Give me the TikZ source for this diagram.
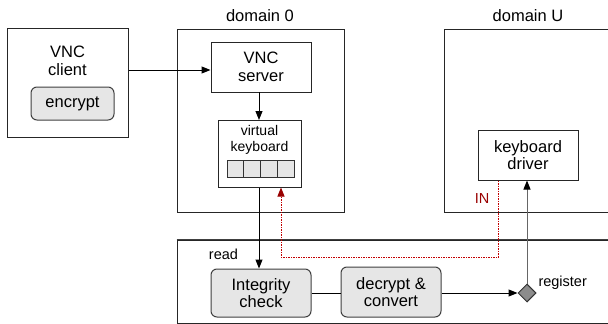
\documentclass[tikz,border=0pt]{standalone}
\usepackage{fontspec}
\setmainfont{Liberation Sans}
\usetikzlibrary{arrows.meta,shapes.geometric}
\definecolor{boxfill}{HTML}{E6E6E6}
\definecolor{darkred}{HTML}{990000}
\definecolor{dotred}{HTML}{C00000}
\definecolor{greyline}{HTML}{666666}
\begin{document}
\begin{tikzpicture}[x=1pt,y=-1pt,
  big/.style={font=\fontsize{16.5}{17.5}\selectfont},
  small/.style={font=\fontsize{14.5}{15.5}\selectfont},
  plainbox/.style={draw=black!85,line width=1pt,fill=white,inner sep=0pt,align=center,big},
  greybox/.style={draw=black!75,line width=1pt,fill=boxfill,rounded corners=6pt,inner sep=0pt,align=center,big},
  cell/.style={draw=black!80,line width=0.8pt,fill=boxfill,inner sep=0pt,minimum width=16.75pt,minimum height=17pt},
  arr/.style={line width=1pt,-{Triangle[length=9pt,width=7pt]}},
  conn/.style={line width=1pt}
]
\useasboundingbox (0,0) rectangle (608,324);
\clip (0,0) rectangle (608,324);
\fill[white] (0,0) rectangle (608,324);
% big containers
\node[plainbox,minimum width=121pt,minimum height=109pt] (client) at (67.5,82.5) {};
\node[plainbox,minimum width=167pt,minimum height=183pt] (dom0) at (260.5,120.5) {};
\node[plainbox,minimum width=176pt,minimum height=183pt] (domU) at (532,120.5) {};
\node[draw=black!85,line width=1pt,fill=white,inner sep=0pt,minimum width=443pt,minimum height=83pt] (bottom) at (398.5,281.5) {};
\draw[black!75,line width=1.8pt] (bottom.north west) -- (bottom.north east);
% labels
\node[big] (l0) at (260,16) {domain 0};
\node[big] (lU) at (528,16) {domain U};
\node[big,align=center] (clienttxt) at (67.5,61) {VNC\\client};
\node[small] (read) at (223.5,254) {read};
\node[small,anchor=west] (reg) at (535,283) {register};
\node[small,text=darkred] (in) at (482,199) {IN};
% inner boxes
\node[greybox,minimum width=83pt,minimum height=33pt] (enc) at (72.5,103.5) {encrypt};
\node[plainbox,minimum width=100pt,minimum height=50pt] (server) at (261,67) {VNC\\server};
\node[plainbox,minimum width=83pt,minimum height=67pt] (vkb) at (259.5,153.5) {};
\node[align=center,font=\fontsize{14}{16}\selectfont] (vkbtxt) at (259.5,139.5) {virtual\\keyboard};
\node[cell] (c1) at (235.4,168.5) {};
\node[cell] (c2) at (252.1,168.5) {};
\node[cell] (c3) at (268.9,168.5) {};
\node[cell] (c4) at (285.6,168.5) {};
\node[plainbox,minimum width=100pt,minimum height=50pt] (driver) at (528,155) {keyboard\\driver};
\node[greybox,minimum width=100pt,minimum height=48pt] (integ) at (261,293) {Integrity\\check};
\node[greybox,minimum width=100pt,minimum height=50pt] (decr) at (391,292) {decrypt \&\\convert};
\node[diamond,draw=black!80,fill=black!45,line width=1pt,inner sep=0pt,minimum width=18pt,minimum height=18pt] (dia) at (527,293) {};
% connectors
\draw[arr] (client.east |- 0,70) -- (server.west |- 0,70);
\draw[arr] (259,92) -- (259,120);
\draw[arr] (vkb.south -| 259,0) -- (integ.north -| 259,0);
\draw[conn] (integ.east) -- (decr.west |- integ.east);
\draw[arr] (decr.east |- dia.west) -- (dia.west);
\draw[line width=1pt,draw=greyline,-{Triangle[length=9pt,width=7pt,fill=black,color=black]}] (dia.north) -- (driver.south -| dia.north);
\draw[dotred,line width=1pt,dash pattern=on 1.5pt off 1pt,-{Triangle[length=9pt,width=7pt,fill=darkred,color=darkred]}]
  (driver.south -| 498,0) -- (498,257) -- (281,257) -- (vkb.south -| 281,0);
\end{tikzpicture}
\end{document}
